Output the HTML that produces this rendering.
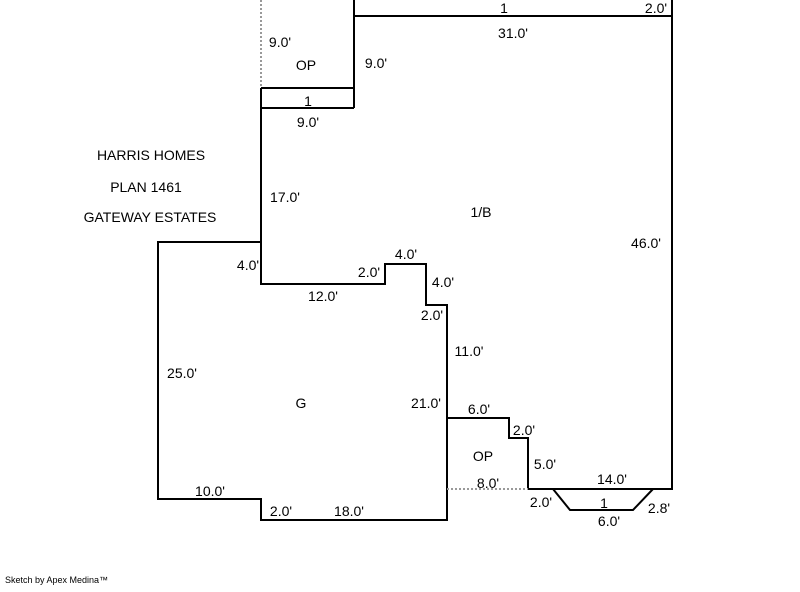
<!DOCTYPE html>
<html><head><style>
body{margin:0;background:#fff;width:800px;height:587px;overflow:hidden}
svg text{font-family:"Liberation Sans",sans-serif;font-size:14px;fill:#000}
</style></head><body>
<svg width="800" height="587" viewBox="0 0 800 587">
<g stroke="#000" stroke-width="2" fill="none">
<polyline points="354,0 354,108"/>
<polyline points="354,16 672,16 672,0"/>
<polyline points="672,16 672,489 528,489 528,438 509,438 509,418 447,418"/>
<polyline points="261,88 354,88"/>
<polyline points="261,88 261,284 385,284 385,264 426,264 426,305 447,305 447,520 261,520 261,499 158,499 158,242 261,242"/>
<polyline points="261,108 354,108"/>
<polyline points="553,489 570,510 633,510 653,489"/>
</g>
<g stroke="#999" stroke-width="2" stroke-dasharray="2,2" fill="none">
<line x1="261" y1="0" x2="261" y2="88"/>
<line x1="447" y1="489" x2="528" y2="489"/>
</g>
<g text-anchor="middle">
<text x="504" y="13">1</text><text x="656" y="13">2.0'</text>
<text x="513" y="38">31.0'</text>
<text x="280" y="47">9.0'</text><text x="306" y="70">OP</text><text x="376" y="68">9.0'</text>
<text x="308" y="106">1</text><text x="308" y="127">9.0'</text>
<text x="151" y="160">HARRIS HOMES</text><text x="146" y="192">PLAN 1461</text><text x="150" y="222">GATEWAY ESTATES</text>
<text x="285" y="202">17.0'</text><text x="481" y="217">1/B</text><text x="646" y="248">46.0'</text>
<text x="248" y="270">4.0'</text><text x="369" y="277">2.0'</text><text x="406" y="259">4.0'</text><text x="443" y="287">4.0'</text>
<text x="323" y="301">12.0'</text><text x="432" y="320">2.0'</text><text x="469" y="356">11.0'</text>
<text x="182" y="378">25.0'</text><text x="301" y="408">G</text><text x="426" y="408">21.0'</text>
<text x="479" y="414">6.0'</text><text x="524" y="435">2.0'</text><text x="483" y="461">OP</text><text x="545" y="469">5.0'</text>
<text x="612" y="484">14.0'</text><text x="488" y="488">8.0'</text><text x="210" y="496">10.0'</text>
<text x="541" y="507">2.0'</text><text x="604" y="508">1</text><text x="659" y="513">2.8'</text><text x="609" y="526">6.0'</text>
<text x="281" y="516">2.0'</text><text x="349" y="516">18.0'</text>
</g>
<text x="5" y="583" style="font-size:9px">Sketch by Apex Medina™</text>
</svg>
</body></html>
